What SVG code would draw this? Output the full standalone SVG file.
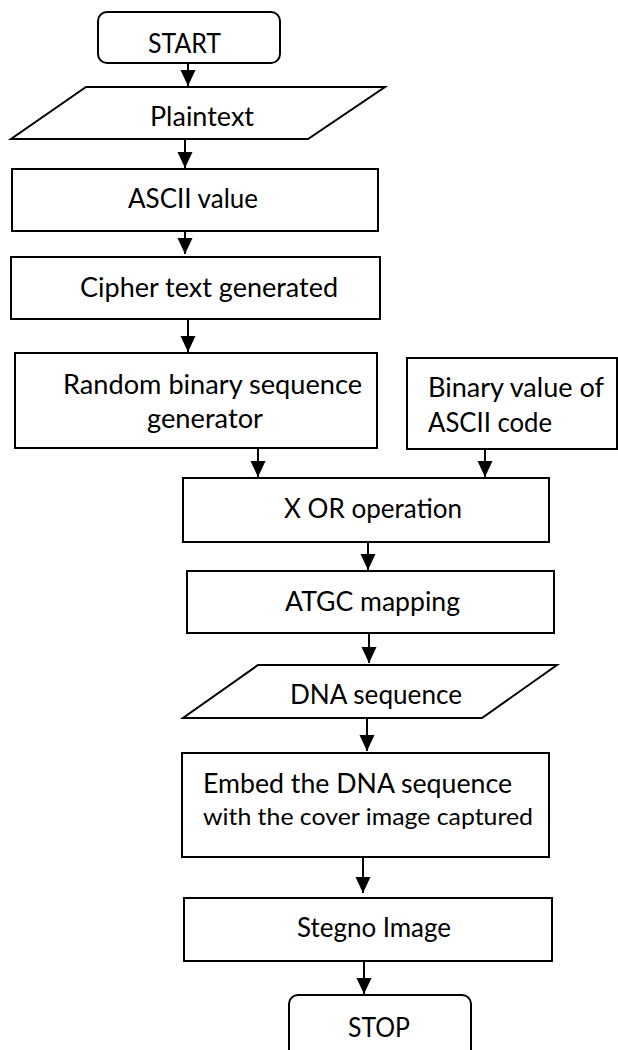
<svg xmlns="http://www.w3.org/2000/svg" width="618" height="1050" viewBox="0 0 618 1050">
<style>
  .box { fill: #ffffff; stroke: #000000; stroke-width: 2; }
  .lbl { font-family: Lato, "Open Sans", "Liberation Sans", sans-serif; font-size: 26px; fill: #000000; }
  .sm { font-size: 24px; }
  .conn { stroke: #000000; stroke-width: 2; fill: none; marker-end: url(#arrow); }
</style>
<defs>
  <marker id="arrow" markerUnits="userSpaceOnUse" markerWidth="16" markerHeight="17" refX="17" refY="8" orient="auto" viewBox="0 0 17 16">
    <path d="M0,0 L17,8 L0,16 Z" fill="#000000"/>
  </marker>
</defs>
<rect width="618" height="1050" fill="#ffffff"/>

<g id="connectors">
  <line class="conn" x1="188" y1="63" x2="188" y2="86"/>
  <line class="conn" x1="185" y1="140" x2="185" y2="168"/>
  <line class="conn" x1="185" y1="231" x2="185" y2="254"/>
  <line class="conn" x1="188" y1="319" x2="188" y2="352"/>
  <line class="conn" x1="258" y1="448" x2="258" y2="477"/>
  <line class="conn" x1="485" y1="449" x2="485" y2="477"/>
  <line class="conn" x1="368" y1="542" x2="368" y2="570"/>
  <line class="conn" x1="369" y1="633" x2="369" y2="663"/>
  <line class="conn" x1="367" y1="718" x2="367" y2="751"/>
  <line class="conn" x1="363" y1="857" x2="363" y2="893"/>
  <line class="conn" x1="364" y1="961" x2="364" y2="994"/>
</g>

<g id="start">
  <rect class="box" x="98" y="12" width="182" height="51" rx="9"/>
  <text class="lbl" x="148" y="53" textLength="73" lengthAdjust="spacingAndGlyphs">START</text>
</g>
<g id="plaintext">
  <polygon class="box" points="86,87 385,87 308,139 11,139"/>
  <text class="lbl" x="150" y="126" textLength="104" lengthAdjust="spacingAndGlyphs">Plaintext</text>
</g>
<g id="ascii">
  <rect class="box" x="12" y="169" width="366" height="62"/>
  <text class="lbl" x="128" y="208" textLength="130" lengthAdjust="spacingAndGlyphs">ASCII value</text>
</g>
<g id="cipher">
  <rect class="box" x="11" y="257" width="369" height="62"/>
  <text class="lbl" x="80" y="297" textLength="258" lengthAdjust="spacingAndGlyphs">Cipher text generated</text>
</g>
<g id="random">
  <rect class="box" x="15" y="353" width="362" height="95"/>
  <text class="lbl" x="63" y="394" textLength="299" lengthAdjust="spacingAndGlyphs">Random binary sequence</text>
  <text class="lbl" x="147" y="428" textLength="116" lengthAdjust="spacingAndGlyphs">generator</text>
</g>
<g id="binary">
  <rect class="box" x="407" y="358" width="210" height="91"/>
  <text class="lbl" x="428" y="397" textLength="176" lengthAdjust="spacingAndGlyphs">Binary value of</text>
  <text class="lbl" x="428" y="432" textLength="124" lengthAdjust="spacingAndGlyphs">ASCII code</text>
</g>
<g id="xor">
  <rect class="box" x="183" y="478" width="366" height="64"/>
  <text class="lbl" x="284" y="518" textLength="178" lengthAdjust="spacingAndGlyphs">X OR operation</text>
</g>
<g id="atgc">
  <rect class="box" x="187" y="571" width="367" height="62"/>
  <text class="lbl" x="285" y="611" textLength="175" lengthAdjust="spacingAndGlyphs">ATGC mapping</text>
</g>
<g id="dna">
  <polygon class="box" points="258,665 557,665 482,718 183,718"/>
  <text class="lbl" x="290" y="704" textLength="172" lengthAdjust="spacingAndGlyphs">DNA sequence</text>
</g>
<g id="embed">
  <rect class="box" x="182" y="753" width="367" height="104"/>
  <text class="lbl" x="203" y="793" textLength="309" lengthAdjust="spacingAndGlyphs">Embed the DNA sequence</text>
  <text class="lbl sm" x="203" y="825" textLength="330" lengthAdjust="spacingAndGlyphs">with the cover image captured</text>
</g>
<g id="stegno">
  <rect class="box" x="184" y="898" width="368" height="63"/>
  <text class="lbl" x="297" y="937" textLength="154" lengthAdjust="spacingAndGlyphs">Stegno Image</text>
</g>
<g id="stop">
  <rect class="box" x="289" y="995" width="182" height="70" rx="9"/>
  <text class="lbl" x="348" y="1037" textLength="62" lengthAdjust="spacingAndGlyphs">STOP</text>
</g>
</svg>
